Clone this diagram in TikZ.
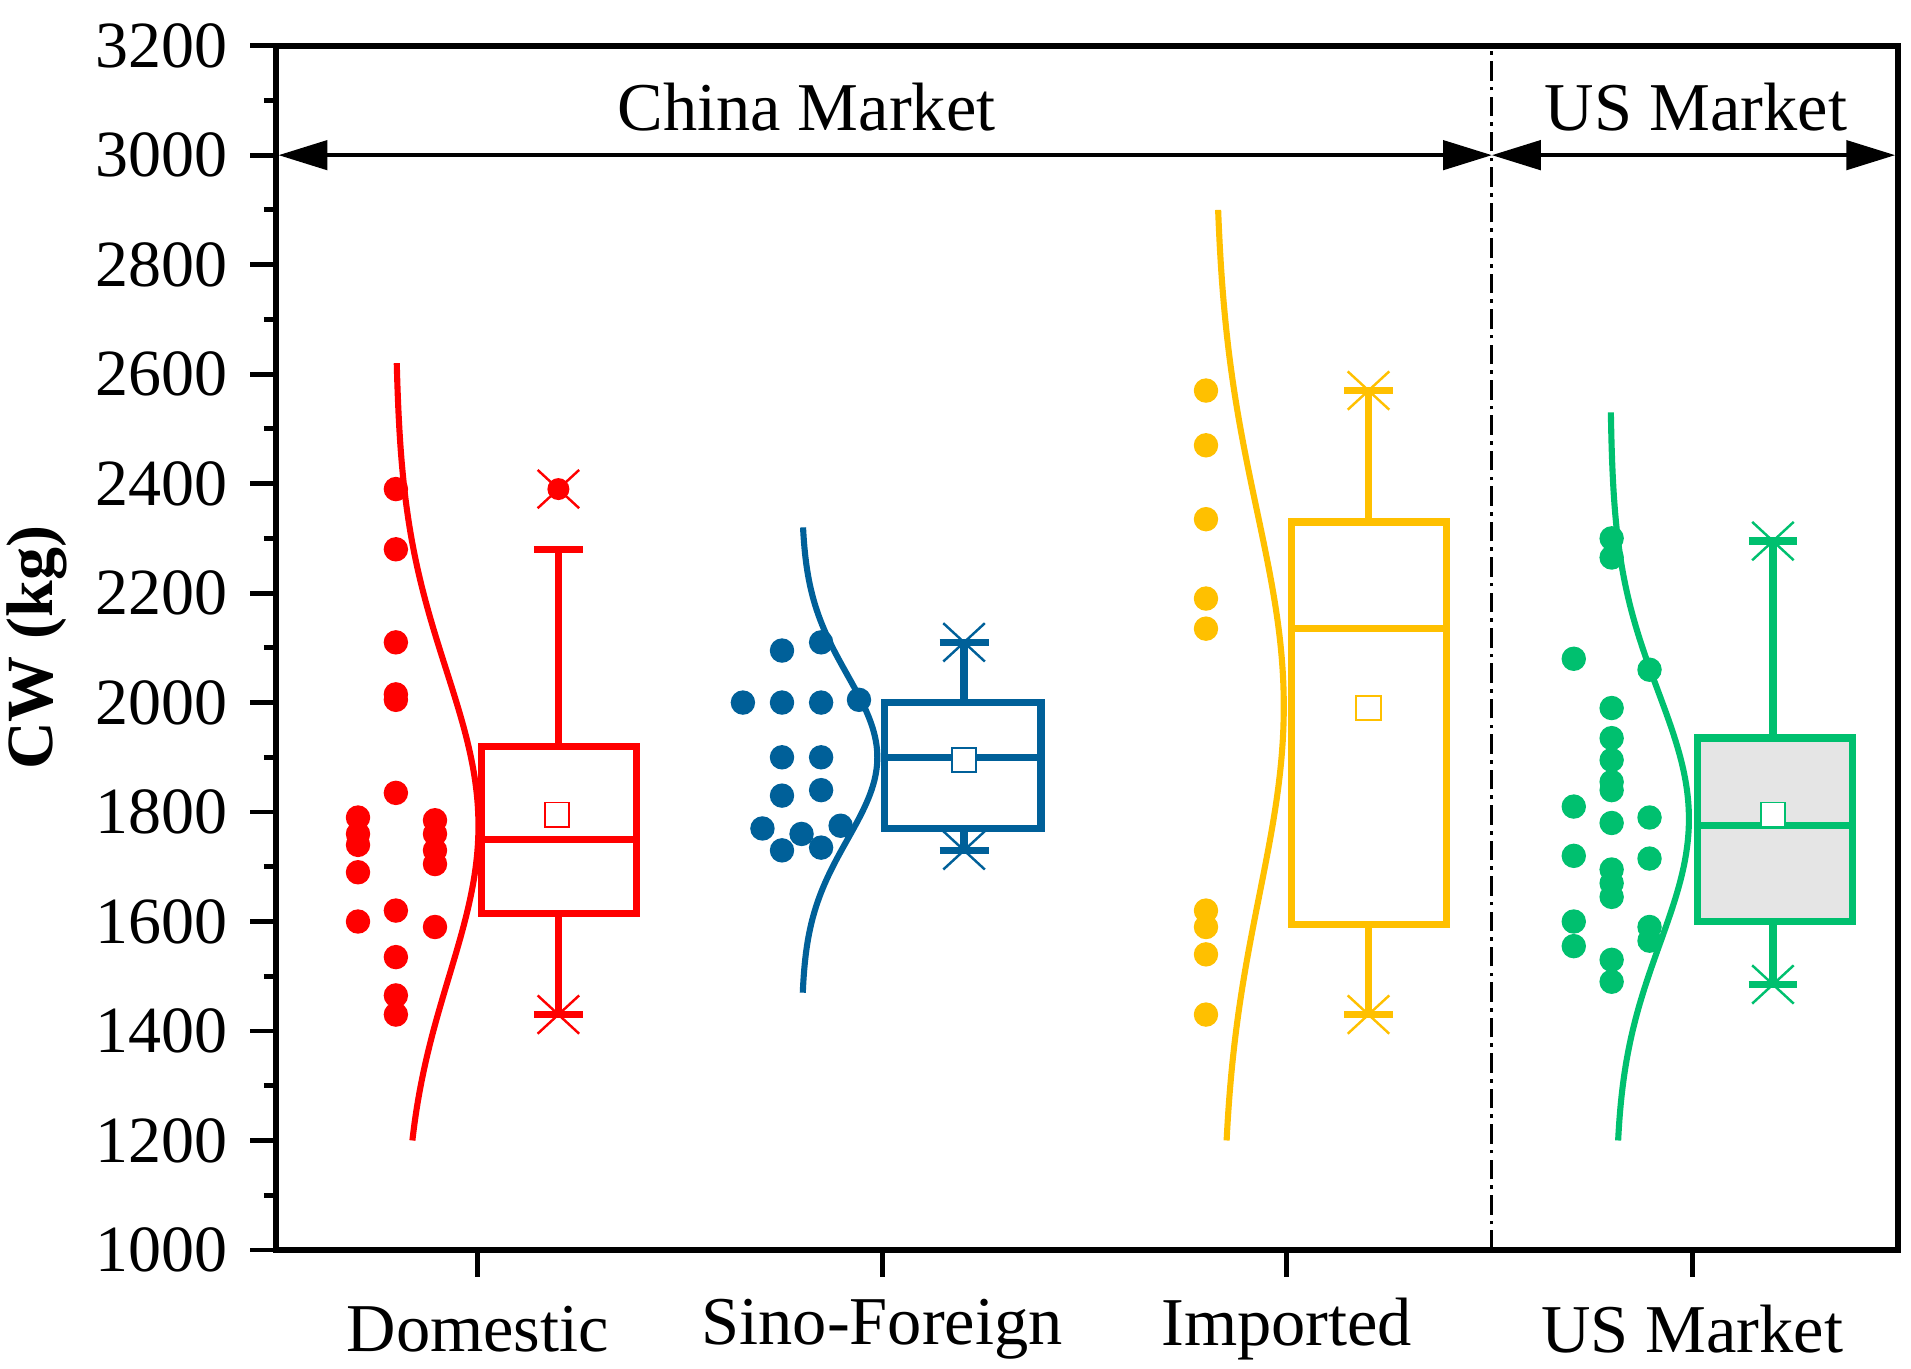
\documentclass[tikz,border=0pt]{standalone}
\usepackage{fontspec}
\setmainfont{Liberation Serif}
\usetikzlibrary{arrows.meta}
\definecolor{cR}{RGB}{255,0,0}
\definecolor{cB}{RGB}{0,96,153}
\definecolor{cY}{RGB}{255,192,0}
\definecolor{cG}{RGB}{0,192,111}
\begin{document}
\begin{tikzpicture}[x=1pt,y=0.448pt,
  ax/.style={line width=5pt},
  bx/.style={line width=6pt},
  cv/.style={line width=5pt},
  dt/.style={circle,inner sep=0pt,minimum size=20pt},
  mn/.style={draw,fill=white,line width=1.5pt,minimum size=20pt,inner sep=0pt},
  tl/.style={font=\fontsize{54}{54}\selectfont,anchor=east},
  xl/.style={font=\fontsize{56}{56}\selectfont}]
\useasboundingbox (0,783.5) rectangle (1564,3283.5);
% axes
\draw[ax] (226,1000) rectangle (1553,3200);
\foreach \v in {1000,1200,...,3200}{
  \draw[line width=4pt] (205,\v) -- (226,\v);
  \node[tl] (t\v) at (190,\v) {\v};}
\foreach \v in {1100,1300,...,3100}{\draw[line width=4pt] (216,\v) -- (226,\v);}
\foreach \x/\n/\t in {391/d/Domestic,722/s/Sino-Foreign,1053/i/Imported,1385/u/US Market}{
  \draw[line width=4pt] (\x,1000) -- (\x,{1000-22/0.448});
  \node[xl] (x\n) at (\x,{1000-65/0.448}) {\t};}
\node[font=\bfseries\fontsize{54}{54}\selectfont,rotate=90] (yl) at (30,2100) {CW (kg)};
% separators
\draw[line width=2.5pt,dash pattern=on 16pt off 5pt on 3pt off 5pt] (1221,1000) -- (1221,3200);
\coordinate (a1) at (228,3000); \coordinate (a2) at (1221,3000); \coordinate (a3) at (1551,3000);
\draw[line width=3pt,{Triangle[length=40pt,width=24pt]}-{Triangle[length=40pt,width=24pt]}] (a1) -- (a2);
\draw[line width=3pt,{Triangle[length=40pt,width=24pt]}-{Triangle[length=40pt,width=24pt]}] (a2) -- (a3);
\node[xl] (cm) at (660,3087) {China Market};
\node[xl] (um) at (1388,3087) {US Market};
% Domestic
\draw[cR,cv] plot[domain=2620:1200,samples=80,smooth] ({324+64*exp(-0.5*((\x-1780)/280)^2)+6*(2620-\x)/1420},\x);
\foreach \p in {(324,2390),(324,2280),(324,2110),(324,2015),(324,2005),(324,1835),(293,1790),(293,1760),(293,1740),(356,1785),(356,1760),(356,1730),(356,1705),(293,1690),(293,1600),(324,1620),(356,1590),(324,1535),(324,1465),(324,1430)}
  \node[dt,fill=cR] at \p {};
\draw[cR,bx] (457,1430) -- (457,1615) (457,1920) -- (457,2280) (437,2280) -- (477,2280) (437,1430)--(477,1430);
\draw[cR,bx] (394,1615) rectangle (521,1920) (394,1750) -- (521,1750);
\draw[cR,line width=2pt] (440,1395)--(474,1465) (440,1465)--(474,1395) (440,2355)--(474,2425) (440,2425)--(474,2355);
\node[dt,fill=cR,minimum size=18pt] (do) at (457,2390) {};
\node[mn,draw=cR] (dm) at (456,1795) {};
% Sino
\draw[cB,cv] plot[domain=2320:1470,samples=80,smooth] ({656+62*exp(-0.5*((\x-1900)/150)^2)},\x);
\foreach \p in {(608,2000),(640,2000),(672,2000),(640,2095),(672,2110),(703,2005),(640,1900),(672,1900),(640,1830),(672,1840),(624,1770),(656,1760),(688,1775),(640,1730),(672,1735)}
  \node[dt,fill=cB] at \p {};
\draw[cB,bx] (789,1730) -- (789,1770) (789,2000) -- (789,2110) (769,2110) -- (809,2110) (769,1730)--(809,1730);
\draw[cB,bx] (724,1770) rectangle (852,2000) (724,1900) -- (852,1900);
\draw[cB,line width=2pt] (772,1695)--(806,1765) (772,1765)--(806,1695) (772,2075)--(806,2145) (772,2145)--(806,2075);
\node[mn,draw=cB] (sm) at (789,1895) {};
% Imported
\draw[cY,cv] plot[domain=2900:1200,samples=80,smooth] ({995+53*exp(-0.5*((\x-2000)/350)^2)+5*(2900-\x)/1700},\x);
\foreach \v in {2570,2470,2335,2190,2135,1620,1590,1540,1430}
  \node[dt,fill=cY] at (987,\v) {};
\draw[cY,bx] (1120,1430) -- (1120,1595) (1120,2330) -- (1120,2570) (1100,2570) -- (1140,2570) (1100,1430)--(1140,1430);
\draw[cY,bx] (1057,1595) rectangle (1184,2330) (1057,2135) -- (1184,2135);
\draw[cY,line width=2pt] (1103,1395)--(1137,1465) (1103,1465)--(1137,1395) (1103,2535)--(1137,2605) (1103,2605)--(1137,2535);
\node[mn,draw=cY] (im) at (1120,1990) {};
% US
\draw[cG,cv] plot[domain=2530:1200,samples=80,smooth] ({1318+62*exp(-0.5*((\x-1790)/230)^2)+4*(2530-\x)/1330},\x);
\foreach \v in {2080,1810,1720,1600,1555} \node[dt,fill=cG] at (1288,\v) {};
\foreach \v in {2300,2265,1990,1935,1895,1855,1840,1780,1695,1670,1645,1530,1490} \node[dt,fill=cG] at (1319,\v) {};
\foreach \v in {2060,1790,1715,1590,1565} \node[dt,fill=cG] at (1350,\v) {};
\draw[cG,bx,fill=black!10] (1389,1600) rectangle (1516,1935);
\draw[cG,bx] (1389,1775) -- (1516,1775);
\draw[cG,bx] (1451,1485) -- (1451,1600) (1451,1935) -- (1451,2295) (1431,2295) -- (1471,2295) (1431,1485)--(1471,1485);
\draw[cG,line width=2pt] (1434,1450)--(1468,1520) (1434,1520)--(1468,1450) (1434,2260)--(1468,2330) (1434,2330)--(1468,2260);
\node[mn,draw=cG] (um2) at (1451,1795) {};
\end{tikzpicture}
\end{document}
